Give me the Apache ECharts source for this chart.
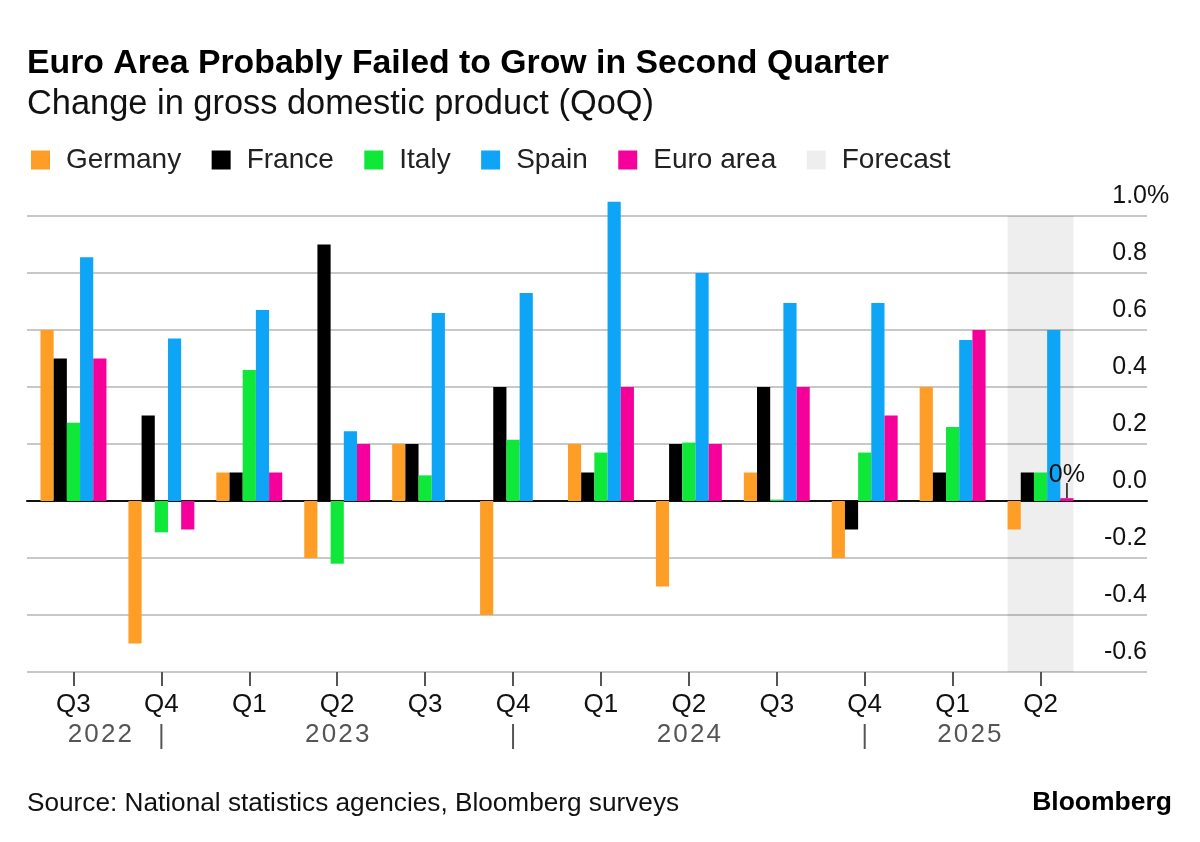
<!DOCTYPE html>
<html>
<head>
  <meta charset="utf-8">
  <title>Euro Area GDP</title>
  <script src="https://cdn.jsdelivr.net/npm/echarts@6/dist/echarts.min.js"></script>
  <style>html,body{margin:0;background:#fff}</style>
</head>
<body>
<div id="main" style="width:1200px;height:842px"></div>
<script type="text/javascript">
  var quarters = ['Q3', 'Q4', 'Q1', 'Q2', 'Q3', 'Q4', 'Q1', 'Q2', 'Q3', 'Q4', 'Q1', 'Q2'];
  var germany = [0.6, -0.5, 0.1, -0.2, 0.2, -0.4, 0.2, -0.3, 0.1, -0.2, 0.4, -0.1];
  var france = [0.5, 0.3, 0.1, 0.9, 0.2, 0.4, 0.1, 0.2, 0.4, -0.1, 0.1, 0.1];
  var italy = [0.275, -0.11, 0.46, -0.22, 0.09, 0.215, 0.17, 0.205, 0.005, 0.17, 0.26, 0.1];
  var spain = [0.855, 0.57, 0.67, 0.245, 0.66, 0.73, 1.05, 0.8, 0.695, 0.695, 0.565, 0.6];
  var euroArea = [0.5, -0.1, 0.1, 0.2, 0, 0, 0.4, 0.2, 0.4, 0.3, 0.6, 0.01];
  var forecast = [[11, 1.0, -0.6]];
  var years = ['2022', '2023', '2024', '2025'];

  var font = '"Liberation Sans", Arial, sans-serif';
  var myChart = echarts.init(document.getElementById('main'));

  // last euro area bar carries the 0% callout
  var euroData = euroArea.map(function (v, i) {
    if (i !== euroArea.length - 1) return v;
    return {
      value: v,
      label: { show: true, position: 'top', distance: 11, formatter: '0%', fontFamily: font, fontSize: 25, color: '#111', textBorderWidth: 0 }
    };
  });

  function barSeries(name, color, data) {
    return {
      name: name, type: 'bar', xAxisIndex: 1, yAxisIndex: 2,
      barGap: 0, barCategoryGap: '25%',
      itemStyle: { color: color }, data: data, z: 3
    };
  }

  var option = {
    backgroundColor: '#fff',
    animation: false,
    title: [
      { text: 'Euro Area Probably Failed to Grow in Second Quarter', left: 27, top: 47, padding: 0,
        textStyle: { fontFamily: font, fontWeight: 'bold', fontSize: 33.8, color: '#000' } },
      { text: 'Change in gross domestic product (QoQ)', left: 27, top: 88, padding: 0,
        textStyle: { fontFamily: font, fontWeight: 'normal', fontSize: 34.4, color: '#111' } },
      { text: 'Source: National statistics agencies, Bloomberg surveys', left: 27, top: 791, padding: 0,
        textStyle: { fontFamily: font, fontWeight: 'normal', fontSize: 26.2, color: '#111' } },
      { text: 'Bloomberg', right: 28, top: 789, padding: 0,
        textStyle: { fontFamily: font, fontWeight: 'bold', fontSize: 26.5, color: '#000' } }
    ],
    legend: {
      left: 31, top: 146, padding: 0, itemWidth: 19, itemHeight: 19, itemGap: 30.5,
      icon: 'rect',
      data: ['Germany', 'France', 'Italy', 'Spain', 'Euro area', 'Forecast'],
      textStyle: { fontFamily: font, fontSize: 28, color: '#222', padding: [0, 0, 0, 11] }
    },
    grid: [
      { left: 27, width: 1120, top: 159, height: 513 },
      { left: 29.5, width: 1055, top: 159, height: 513 }
    ],
    xAxis: [
      { type: 'value', gridIndex: 0, min: 0, max: 1, splitLine: { show: false },
        axisTick: { show: false }, axisLabel: { show: false },
        axisLine: { show: true, onZero: true, lineStyle: { color: '#111', width: 2 } } },
      { type: 'category', gridIndex: 1, data: quarters,
        axisLine: { show: false, onZero: false },
        axisTick: { show: true, alignWithLabel: true, length: 14, lineStyle: { color: '#555', width: 2 } },
        axisLabel: { interval: 0, margin: 20, fontFamily: font, fontSize: 26, color: '#111' } }
    ],
    yAxis: [
      { type: 'value', gridIndex: 0, position: 'right', min: -0.6, max: 1.2, interval: 0.2,
        axisLine: { show: false }, axisTick: { show: false },
        splitLine: { show: true, showMaxLine: false, lineStyle: { color: '#c8c8c8', width: 2 } },
        axisLabel: {
          inside: true, margin: 0, verticalAlign: 'bottom', padding: [0, 0, 7, 0],
          fontFamily: font, fontSize: 25, color: '#111',
          showMaxLabel: false,
          formatter: function (v) { return v.toFixed(1); }
        } },
      // hangs the % sign outside the right edge, next to 1.0 only
      { type: 'value', gridIndex: 0, position: 'right', min: -0.6, max: 1.2, interval: 0.2,
        axisLine: { show: false }, axisTick: { show: false }, splitLine: { show: false },
        axisLabel: {
          margin: 0, verticalAlign: 'bottom', padding: [0, 0, 7, 0], align: 'left',
          fontFamily: font, fontSize: 25, color: '#111',
          formatter: function (v) { return Math.abs(v - 1) < 1e-6 ? '%' : ''; }
        } },
      { type: 'value', gridIndex: 1, min: -0.6, max: 1.2, interval: 0.2, show: false }
    ],
    series: [
      {
        name: 'Forecast', type: 'custom', xAxisIndex: 1, yAxisIndex: 2, z: 1,
        itemStyle: { color: 'rgba(0,0,0,0.065)' },
        encode: { x: 0, y: [1, 2] },
        data: forecast,
        renderItem: function (params, api) {
          var top = api.coord([api.value(0), api.value(1)]);
          var bottom = api.coord([api.value(0), api.value(2)]);
          var w = api.size([1, 0])[0] * 0.75;
          return {
            type: 'rect',
            shape: { x: top[0] - w / 2, y: top[1], width: w, height: bottom[1] - top[1] },
            style: api.style()
          };
        }
      },
      barSeries('Germany', '#ff9e27', germany),
      barSeries('France', '#000000', france),
      barSeries('Italy', '#0fe838', italy),
      barSeries('Spain', '#0ea5f7', spain),
      barSeries('Euro area', '#f5009b', euroData)
    ]
  };
  myChart.setOption(option);

  // year row below the quarters, plus the separators and the 0% leader
  var q = function (u) {
    var a = myChart.convertToPixel({ xAxisIndex: 1 }, 0);
    var b = myChart.convertToPixel({ xAxisIndex: 1 }, 1);
    return a + (b - a) * u;
  };
  var yearAnchors = [0.3, 3, 7, 10.19];
  var separators = [1, 5, 9];
  var graphic = [];
  years.forEach(function (y, i) {
    graphic.push({
      type: 'text', x: q(yearAnchors[i]), y: 735,
      style: { text: y.split('').join('\u200a'), fontFamily: font, fontSize: 26, fill: '#555', align: 'center', verticalAlign: 'middle' }
    });
  });
  separators.forEach(function (s) {
    graphic.push({
      type: 'line', shape: { x1: q(s), y1: 724, x2: q(s), y2: 749 },
      style: { stroke: '#555', lineWidth: 2 }
    });
  });
  var tipX = q(11) + 26.4;
  var zeroY = myChart.convertToPixel({ yAxisIndex: 2 }, 0);
  graphic.push({
    type: 'line', shape: { x1: tipX, y1: zeroY - 18, x2: tipX, y2: zeroY - 3 },
    style: { stroke: '#111', lineWidth: 1.5 }, z: 10
  });
  myChart.setOption({ graphic: graphic });
</script>
</body>
</html>
